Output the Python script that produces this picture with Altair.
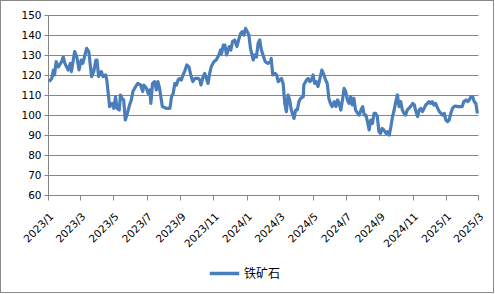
import altair as alt
import pandas as pd

dates = [
    "2023-01-03", "2023-01-08", "2023-01-11", "2023-01-13", "2023-01-16", "2023-01-20",
    "2023-01-26", "2023-01-29", "2023-02-01", "2023-02-07", "2023-02-11", "2023-02-13",
    "2023-02-19", "2023-02-23", "2023-02-27", "2023-03-03", "2023-03-06", "2023-03-13",
    "2023-03-17", "2023-03-22", "2023-03-26", "2023-03-30", "2023-04-01", "2023-04-04",
    "2023-04-09", "2023-04-12", "2023-04-17", "2023-04-19", "2023-04-23", "2023-04-24",
    "2023-04-29", "2023-05-02", "2023-05-05", "2023-05-08", "2023-05-12", "2023-05-14",
    "2023-05-17", "2023-05-20", "2023-05-23", "2023-05-26", "2023-05-30", "2023-06-03",
    "2023-06-06", "2023-06-11", "2023-06-15", "2023-06-20", "2023-06-24", "2023-06-26",
    "2023-07-01", "2023-07-04", "2023-07-07", "2023-07-09", "2023-07-12", "2023-07-16",
    "2023-07-19", "2023-07-22", "2023-07-25", "2023-07-30", "2023-08-07", "2023-08-13",
    "2023-08-16", "2023-08-19", "2023-08-22", "2023-08-25", "2023-08-28", "2023-08-31",
    "2023-09-03", "2023-09-06", "2023-09-09", "2023-09-13", "2023-09-17", "2023-09-21",
    "2023-09-24", "2023-09-28", "2023-10-04", "2023-10-07", "2023-10-09", "2023-10-13",
    "2023-10-16", "2023-10-19", "2023-10-22", "2023-10-25", "2023-10-28", "2023-11-02",
    "2023-11-06", "2023-11-11", "2023-11-14", "2023-11-16", "2023-11-19", "2023-11-22",
    "2023-11-25", "2023-11-30", "2023-12-03", "2023-12-06", "2023-12-10", "2023-12-14",
    "2023-12-18", "2023-12-21", "2023-12-24", "2023-12-27", "2023-12-30",
    "2024-01-02", "2024-01-05", "2024-01-08", "2024-01-13", "2024-01-16", "2024-01-19",
    "2024-01-22", "2024-01-25", "2024-01-28", "2024-01-31", "2024-02-04", "2024-02-09",
    "2024-02-14", "2024-02-15", "2024-02-18", "2024-02-22", "2024-02-25", "2024-02-28",
    "2024-03-02", "2024-03-05", "2024-03-08", "2024-03-11", "2024-03-14", "2024-03-17",
    "2024-03-20", "2024-03-23", "2024-03-28", "2024-03-31", "2024-04-03", "2024-04-06",
    "2024-04-09", "2024-04-14", "2024-04-15", "2024-04-20", "2024-04-23", "2024-04-26",
    "2024-04-29", "2024-05-02", "2024-05-05", "2024-05-08", "2024-05-11", "2024-05-14",
    "2024-05-18", "2024-05-22", "2024-05-25", "2024-05-28", "2024-05-31", "2024-06-03",
    "2024-06-06", "2024-06-10", "2024-06-13", "2024-06-16", "2024-06-19", "2024-06-22",
    "2024-06-25", "2024-06-28", "2024-07-01", "2024-07-04", "2024-07-07", "2024-07-10",
    "2024-07-13", "2024-07-16", "2024-07-19", "2024-07-23", "2024-07-26", "2024-07-29",
    "2024-08-01", "2024-08-04", "2024-08-07", "2024-08-10", "2024-08-13", "2024-08-16",
    "2024-08-19", "2024-08-22", "2024-08-25", "2024-08-28", "2024-08-31", "2024-09-03",
    "2024-09-06", "2024-09-09", "2024-09-13", "2024-09-16", "2024-09-19", "2024-09-22",
    "2024-09-25", "2024-09-28", "2024-10-01", "2024-10-04", "2024-10-07", "2024-10-10",
    "2024-10-13", "2024-10-16", "2024-10-19", "2024-10-22", "2024-10-25", "2024-10-28",
    "2024-11-01", "2024-11-04", "2024-11-07", "2024-11-10", "2024-11-13", "2024-11-16",
    "2024-11-19", "2024-11-22", "2024-11-25", "2024-11-28", "2024-12-01", "2024-12-04",
    "2024-12-07", "2024-12-10", "2024-12-13", "2024-12-17", "2024-12-20", "2024-12-23",
    "2024-12-26", "2024-12-29", "2025-01-01", "2025-01-04", "2025-01-07", "2025-01-10",
    "2025-01-13", "2025-01-16", "2025-01-19", "2025-01-23", "2025-01-28", "2025-01-31",
    "2025-02-03", "2025-02-07", "2025-02-10", "2025-02-13", "2025-02-16", "2025-02-19",
    "2025-02-22", "2025-02-25", "2025-02-28",
]

values = [
    116.7, 118.3, 122.5, 120.0, 126.7, 124.0,
    126.7, 129.0, 125.8, 122.5, 125.8, 121.7,
    131.7, 129.0, 122.5, 127.5, 125.8, 133.3,
    131.7, 119.2, 121.7, 127.5, 127.5, 119.2,
    121.7, 119.2, 120.0, 117.5, 107.5, 104.2,
    105.8, 103.3, 109.2, 103.3, 102.5, 110.0,
    108.3, 107.5, 97.5, 100.0, 104.2, 107.5,
    111.7, 114.2, 115.8, 115.0, 111.7, 115.0,
    113.3, 110.8, 112.5, 105.8, 115.8, 116.7,
    112.5, 116.7, 113.3, 104.2, 103.3, 103.3,
    109.2, 110.8, 115.8, 115.0, 117.5, 118.3,
    117.5, 120.0, 121.7, 125.0, 124.0, 119.2,
    116.7, 118.3, 118.3, 117.5, 115.0, 119.2,
    120.8, 118.3, 115.8, 120.8, 124.2, 126.7,
    127.5, 130.0, 132.5, 130.8, 135.0, 135.0,
    130.0, 134.2, 132.5, 136.7, 137.5, 134.2,
    138.3, 140.8, 141.7, 140.0, 143.3,
    141.7, 140.0, 133.3, 127.5, 130.0, 129.0,
    135.8, 137.5, 132.5, 130.0, 126.7, 125.8,
    126.7, 128.3, 120.0, 120.8, 120.0, 116.7,
    117.5, 118.3, 115.8, 105.8, 101.7, 110.0,
    107.5, 102.5, 98.3, 102.5, 102.5, 106.7,
    108.3, 109.2, 115.0, 117.5, 118.3, 116.7,
    117.5, 120.0, 115.8, 116.7, 114.2, 117.5,
    122.5, 120.0, 117.5, 115.8, 108.3, 105.8,
    104.2, 106.7, 104.2, 107.5, 105.8, 102.5,
    107.5, 113.3, 111.7, 107.5, 105.8, 109.2,
    105.0, 108.3, 102.5, 100.8, 100.0, 102.5,
    104.2, 100.0, 100.0, 96.7, 92.5, 97.5,
    95.8, 100.8, 100.8, 99.2, 91.7, 90.8,
    93.3, 92.5, 90.8, 91.7, 90.0, 94.2,
    99.2, 102.5, 106.7, 110.0, 104.2, 106.7,
    102.5, 100.8, 100.0, 102.5, 103.3, 104.2,
    105.8, 105.0, 101.7, 99.2, 102.5, 103.3,
    101.7, 103.3, 105.0, 105.8, 106.7, 105.8,
    106.7, 105.0, 105.8, 103.3, 101.7, 100.8,
    100.0, 100.8, 97.5, 96.7, 97.5, 100.8,
    103.3, 104.2, 104.5, 104.2, 104.2, 104.2,
    106.7, 107.5, 106.7, 107.5, 109.2, 109.2,
    106.7, 105.8, 100.8,
]

series_name = "铁矿石"
y_ticks = [60, 70, 80, 90, 100, 110, 120, 130, 140, 150]

df = pd.DataFrame({"date": dates, "value": values, "series": series_name})

GRID = "#868686"
FONT = "DejaVu Sans"

x_enc = alt.X(
    "date:T",
    scale=alt.Scale(
        type="utc",
        domain=[alt.DateTime(year=2023, month=1, date=1, utc=True),
                alt.DateTime(year=2025, month=3, date=1, utc=True)],
        nice=False,
    ),
    axis=alt.Axis(
        title=None,
        tickCount={"interval": "month", "step": 2},
        labelExpr="utcFormat(datum.value, '%Y') + '/' + (utcFormat(datum.value, '%m') * 1)",
        labelAngle=-45,
        labelAlign="right",
        labelBaseline="top",
        labelPadding=11,
        tickSize=5,
        grid=False,
        domainColor=GRID,
        tickColor=GRID,
        labelFont=FONT,
        labelFontSize=10.5,
        labelColor="#000000",
        labelOverlap=False,
        labelFlush=False,
    ),
)

y_enc = alt.Y(
    "value:Q",
    scale=alt.Scale(domain=[60, 150], nice=False, zero=False),
    axis=alt.Axis(
        title=None,
        values=y_ticks,
        tickSize=4,
        grid=True,
        gridColor=GRID,
        domainColor=GRID,
        tickColor=GRID,
        labelFont=FONT,
        labelFontSize=10.5,
        labelColor="#000000",
        labelPadding=3,
    ),
)

line = alt.Chart(df).mark_line(strokeWidth=3.2, strokeJoin="round").encode(
    x=x_enc,
    y=y_enc,
    color=alt.Color(
        "series:N",
        scale=alt.Scale(range=["#4A7EBB"]),
        legend=alt.Legend(
            title=None,
            orient="none",
            legendX=160,
            legendY=242,
            symbolType="stroke",
            symbolSize=870,
            symbolStrokeWidth=3.5,
            labelFont="Noto Sans CJK SC",
            labelFontSize=12,
            labelColor="#000000",
            labelOffset=3,
            padding=0,
        ),
    ),
)

border = alt.Chart(df).mark_rect(
    filled=False, stroke="#898989", strokeWidth=1
).encode(
    x=alt.value(-47.5), x2=alt.value(445.5),
    y=alt.value(-14.5), y2=alt.value(277.5),
)

chart = alt.layer(border, line).properties(
    width=430,
    height=180,
    padding={"left": 48, "top": 15, "right": 17, "bottom": 99},
    autosize=alt.AutoSizeParams(type="none"),
    background="#ffffff",
).configure_view(stroke=None)

chart.save("out.html", embed_options={"renderer": "svg", "actions": False})
